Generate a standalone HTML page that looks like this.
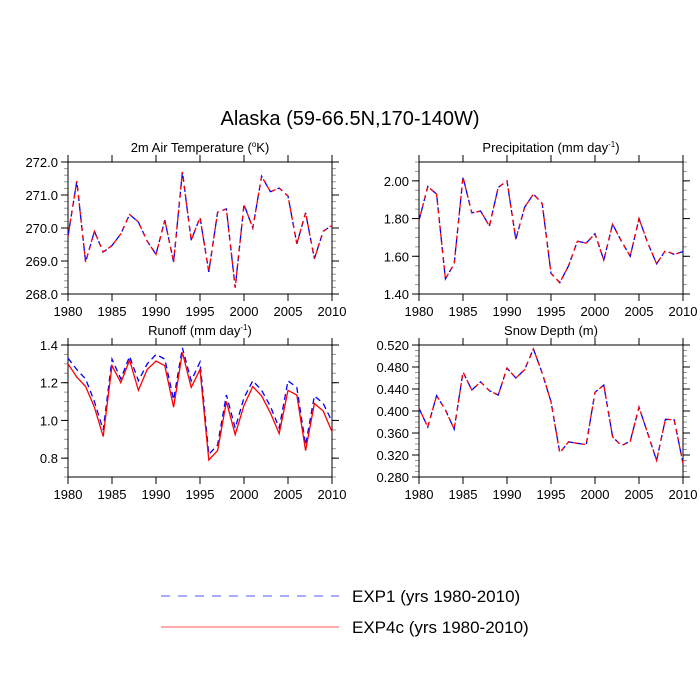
<!DOCTYPE html>
<html><head><meta charset="utf-8">
<style>
html,body{margin:0;padding:0;background:#fff;}
svg{display:block;font-family:"Liberation Sans",sans-serif;}
</style></head>
<body>
<svg id="chart" width="700" height="700" viewBox="0 0 700 700">
<text x="350" y="125" font-size="20" text-anchor="middle">Alaska (59-66.5N,170-140W)</text>
<g id="panels"></g>
<g>
<line x1="161" y1="596" x2="339" y2="596" stroke="#5555ff" stroke-width="1" stroke-dasharray="9,8"/>
<text x="352" y="602" font-size="17">EXP1 (yrs 1980-2010)</text>
<line x1="161" y1="627" x2="339" y2="627" stroke="#ff5555" stroke-width="1"/>
<text x="352" y="633" font-size="17">EXP4c (yrs 1980-2010)</text>
</g>
</svg>
<script>
const years = [1980,1981,1982,1983,1984,1985,1986,1987,1988,1989,1990,1991,1992,1993,1994,1995,1996,1997,1998,1999,2000,2001,2002,2003,2004,2005,2006,2007,2008,2009,2010];
const xTicks = [1980,1985,1990,1995,2000,2005,2010];
const tempExp1 = [269.75,271.42,268.97,269.9,269.27,269.47,269.82,270.41,270.18,269.6,269.2,270.24,268.97,271.7,269.63,270.32,268.67,270.48,270.58,268.19,270.71,270.0,271.57,271.1,271.21,270.97,269.52,270.46,269.07,269.9,270.08];
const tempExp4c = tempExp1.slice();
const tempTicks = [268,269,270,271,272];
const precipExp1 = [1.79,1.97,1.93,1.48,1.56,2.02,1.83,1.84,1.76,1.965,2.0,1.69,1.86,1.93,1.88,1.51,1.46,1.55,1.68,1.67,1.72,1.58,1.77,1.68,1.60,1.80,1.67,1.56,1.63,1.61,1.625];
const precipExp4c = precipExp1.slice();
const precipTicks = [1.4,1.6,1.8,2.0];
const runoffExp1 = [1.33,1.27,1.22,1.10,0.95,1.325,1.22,1.34,1.21,1.30,1.35,1.325,1.11,1.385,1.21,1.31,0.82,0.87,1.135,0.96,1.12,1.21,1.16,1.075,0.96,1.21,1.175,0.87,1.13,1.09,0.995];
const runoffExp4c = [1.30,1.23,1.18,1.07,0.915,1.29,1.20,1.32,1.16,1.27,1.315,1.29,1.07,1.36,1.175,1.27,0.79,0.84,1.10,0.925,1.08,1.18,1.13,1.04,0.93,1.16,1.135,0.84,1.09,1.05,0.94];
const runoffTicks = [0.8,1.0,1.2,1.4];
const snowExp1 = [0.405,0.371,0.428,0.402,0.367,0.471,0.438,0.453,0.437,0.429,0.478,0.46,0.475,0.513,0.469,0.417,0.324,0.344,0.341,0.339,0.434,0.447,0.353,0.337,0.345,0.407,0.359,0.31,0.385,0.384,0.305];
const snowExp4c = snowExp1.slice();
const snowTicks = [0.28,0.32,0.36,0.40,0.44,0.48,0.52];

const NS='http://www.w3.org/2000/svg';
const root=document.getElementById('panels');
function mk(tag,attrs,parent){const e=document.createElementNS(NS,tag);for(const k in attrs)e.setAttribute(k,attrs[k]);(parent||root).appendChild(e);return e;}

const panels=[
 {name:'temperature',title:'2m Air Temperature (',sup:'o',after:'K)',supBefore:true,x0:68,x1:332,y0:162,y1:294,ymin:268,ymax:272,ticks:tempTicks,dec:1,minor:0.2,a:tempExp1,b:tempExp4c},
 {name:'precipitation',title:'Precipitation (mm day',sup:'-1',after:')',x0:419,x1:683,y0:162,y1:294,ymin:1.4,ymax:2.1,ticks:precipTicks,dec:2,minor:0.05,a:precipExp1,b:precipExp4c},
 {name:'runoff',title:'Runoff (mm day',sup:'-1',after:')',x0:68,x1:332,y0:345,y1:477,ymin:0.7,ymax:1.4,ticks:runoffTicks,dec:1,minor:0.05,a:runoffExp1,b:runoffExp4c},
 {name:'snow-depth',title:'Snow Depth (m)',sup:'',after:'',x0:419,x1:683,y0:345,y1:477,ymin:0.28,ymax:0.52,ticks:snowTicks,dec:3,minor:0.01,a:snowExp1,b:snowExp4c}
];
panels.forEach(p=>{
 const g=mk('g',{});
 
 
 const xs=v=>p.x0+(v-1980)/30*(p.x1-p.x0);
 const ys=v=>p.y1-(v-p.ymin)/(p.ymax-p.ymin)*(p.y1-p.y0);
 // title
 const t=mk('text',{x:(p.x0+p.x1)/2,y:p.y0-10,'font-size':13,'text-anchor':'middle'},g);
 
 
 if(p.supBefore){
  t.appendChild(document.createTextNode('2m Air Temperature ('));
  const s=mk('tspan',{'font-size':8,dy:-5},t);s.textContent='o';
  const r=mk('tspan',{dy:5},t);r.textContent='K)';
 } else {
  t.appendChild(document.createTextNode(p.title));
  if(p.sup){const s=mk('tspan',{'font-size':8,dy:-5},t);s.textContent=p.sup;const r=mk('tspan',{dy:5},t);r.textContent=p.after;}
 }
 // minor y ticks
 const nMin=Math.round((p.ymax-p.ymin)/p.minor);
 for(let i=0;i<=nMin;i++){const v=p.ymin+i*p.minor,y=ys(v);
  mk('line',{x1:p.x0-4,x2:p.x0,y1:y,y2:y,stroke:'#999','stroke-width':1},g);
  mk('line',{x1:p.x1,x2:p.x1+4,y1:y,y2:y,stroke:'#999','stroke-width':1},g);}
 // y ticks
 p.ticks.forEach(v=>{const y=ys(v);
  mk('line',{x1:p.x0-7,x2:p.x0,y1:y,y2:y,stroke:'#000','stroke-width':1},g);
  mk('line',{x1:p.x1,x2:p.x1+7,y1:y,y2:y,stroke:'#000','stroke-width':1},g);
  const l=mk('text',{x:p.x0-10,y:y+5,'font-size':13,'text-anchor':'end'},g);
  l.textContent=v.toFixed(p.dec);
  
  
 });
 // x ticks
 xTicks.forEach(v=>{const x=xs(v);
  mk('line',{x1:x,x2:x,y1:p.y1,y2:p.y1+7,stroke:'#000','stroke-width':1},g);
  mk('line',{x1:x,x2:x,y1:p.y0-7,y2:p.y0,stroke:'#000','stroke-width':1},g);
  const l=mk('text',{x:x,y:p.y1+22,'font-size':13,'text-anchor':'middle'},g);
  l.textContent=v;
  
  
 });
 const fr=mk('rect',{x:p.x0,y:p.y0,width:p.x1-p.x0,height:p.y1-p.y0,fill:'none',stroke:'#000','stroke-width':1},g);
 
 
 const pts=arr=>arr.map((v,i)=>xs(years[i]).toFixed(1)+','+ys(v).toFixed(1)).join(' ');
 const lb=mk('polyline',{points:pts(p.a),fill:'none',stroke:'#0000ff','stroke-width':1.3,'stroke-dasharray':'6,4'},g);
 
 
 const lr=mk('polyline',{points:pts(p.b),fill:'none',stroke:'#ff0000','stroke-width':1.3,'stroke-dasharray':p.a===p.b?'':(p.name==='runoff'?'':'4,4')},g);
 
 
 if(p.name!=='runoff'){lr.setAttribute('stroke-dasharray','4,4');lr.setAttribute('stroke-dashoffset','2');}
});
</script>
</body></html>
